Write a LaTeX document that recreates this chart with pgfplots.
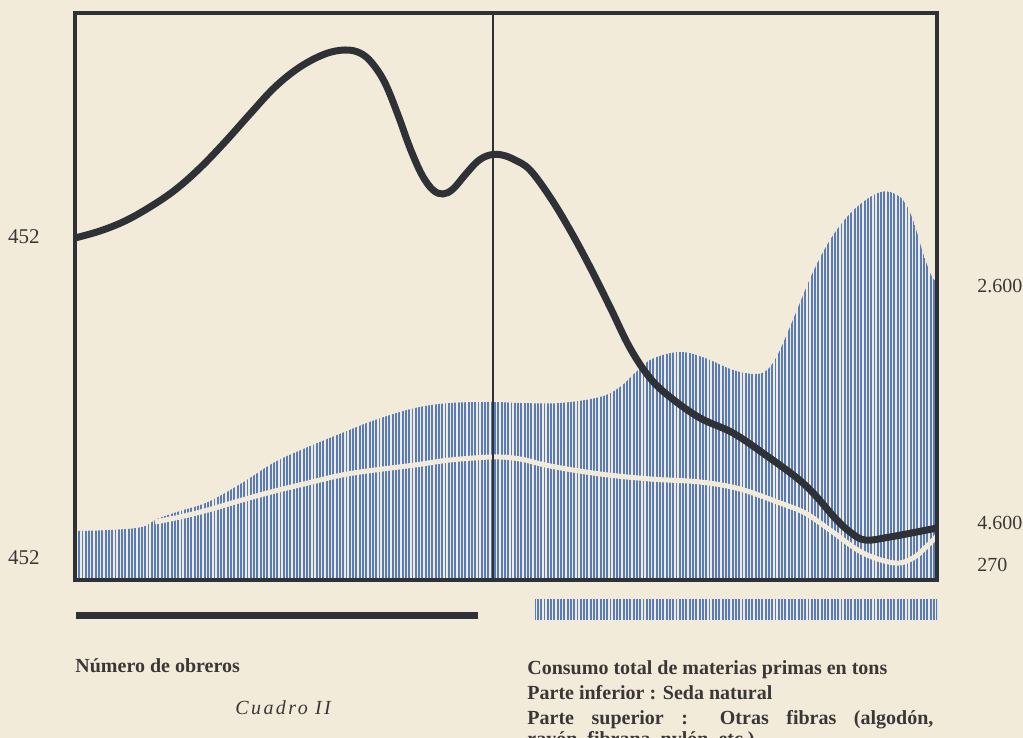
\documentclass[border=0pt]{standalone}
\usepackage{fontspec}
\setmainfont{Liberation Serif}
\usepackage{pgfplots}
\pgfplotsset{compat=1.18}
\usetikzlibrary{patterns.meta}

\definecolor{paper}{RGB}{243,235,218}
\definecolor{hatch}{RGB}{88,124,186}
\definecolor{ink}{RGB}{46,50,54}
\definecolor{txt}{RGB}{58,56,54}

\tikzset{hatchfill/.style={pattern={Lines[angle=90,distance=1.65pt,line width=0.95pt]}, pattern color=hatch}}

\begin{document}
\begin{tikzpicture}[x=1pt,y=1pt]
\fill[paper] (0,0) rectangle (511.5,369);
\begin{axis}[
  at={(37.5pt,79pt)}, anchor=south west,
  scale only axis, width=431pt, height=283.5pt,
  xmin=75, xmax=937, ymin=0, ymax=567,
  ticks=none,
  axis line style={ink, line width=1.6pt},
  axis on top,
]
% consumo total (upper edge of the hatched area)
\addplot[draw=none, hatchfill, smooth, tension=0.6] coordinates {
  (75,49)(110,50)(142,53)(157,61)(180,69)(208,78)(242,97)(275,118)
  (308,133)(342,147)(375,160)(415,172)(450,177)(493,178)(520,177)
  (560,177)(600,183)(620,193)(635,207)(652,221)(680,228)(705,222)
  (733,210)(755,206)(767,210)(777,224)(787,246)(797,270)(813,308)
  (830,340)(847,363)(863,378)(878,387)(890,388)(903,380)(913,360)
  (923,327)(932,303)(937,300)
} \closedcycle;
% seda natural (white boundary)
\addplot[paper, line width=2.5pt, smooth, tension=0.6] coordinates {
  (155,58)(180,63)(208,70)(242,80)(275,89)(308,97)(342,105)(375,110)
  (415,115)(450,120)(493,123)(520,121)(550,114)(600,106)(650,101)
  (700,98)(740,91)(780,77)(805,67)(830,50)(863,27)(895,17)(913,22)
  (925,32)(937,44)
};
% vertical rule
\addplot[ink, line width=0.8pt] coordinates {(493,0)(493,567)};
% numero de obreros
\addplot[ink, line width=3.5pt, smooth, tension=0.6] coordinates {
  (75,342)(100,349)(125,359)(150,373)(175,390)(200,412)(225,438)
  (250,466)(275,493)(300,513)(325,526)(345,530)(360,527)(372,517)
  (385,497)(398,465)(410,432)(422,405)(433,390)(443,386)(453,391)
  (465,405)(478,419)(490,425)(502,425)(515,420)(530,410)(550,383)
  (570,350)(590,313)(610,273)(630,232)(650,202)(670,183)(700,162)
  (733,147)(767,124)(797,102)(815,85)(835,62)(850,48)(865,40)
  (890,43)(937,52)
};
\end{axis}

% scale labels
\begin{scope}[every node/.style={inner sep=0pt, text=txt, font=\fontsize{10.5}{12}\selectfont}]
\node[anchor=east] at (20,250.5) {452};
\node[anchor=east] at (20,90) {452};
\node[anchor=west, font=\fontsize{10}{12}\selectfont] at (488.5,226) {2.600};
\node[anchor=west, font=\fontsize{10}{12}\selectfont] at (488.5,107.5) {4.600};
\node[anchor=west, font=\fontsize{10}{12}\selectfont] at (488.5,86.5) {270};
\end{scope}

% keys
\draw[ink, line width=3.5pt] (38,61.25) -- (239,61.25);
\fill[hatchfill] (267.5,59) rectangle (468.5,69);

% captions
\begin{scope}[every node/.style={inner sep=0pt, anchor=base west, text=txt, font=\fontsize{10}{12}\selectfont\bfseries}]
\node at (37.5,32.5) {Número de obreros};
\node[font=\fontsize{10}{12}\selectfont\itshape] at (117.5,11.5) {\addfontfeature{LetterSpace=12}Cuadro II};
\node at (263.5,31.5) {Consumo total de materias primas en tons};
\node at (263.5,19) {Parte inferior : Seda natural};
\node at (263.5,6.5) {\makebox[203pt][s]{Parte superior : Otras fibras (algodón,}};
\node at (263.5,-4) {rayón, fibrana, nylón, etc.)};
\end{scope}

\pgfresetboundingbox
\useasboundingbox (0,0) rectangle (511.5,369);
\end{tikzpicture}
\end{document}
